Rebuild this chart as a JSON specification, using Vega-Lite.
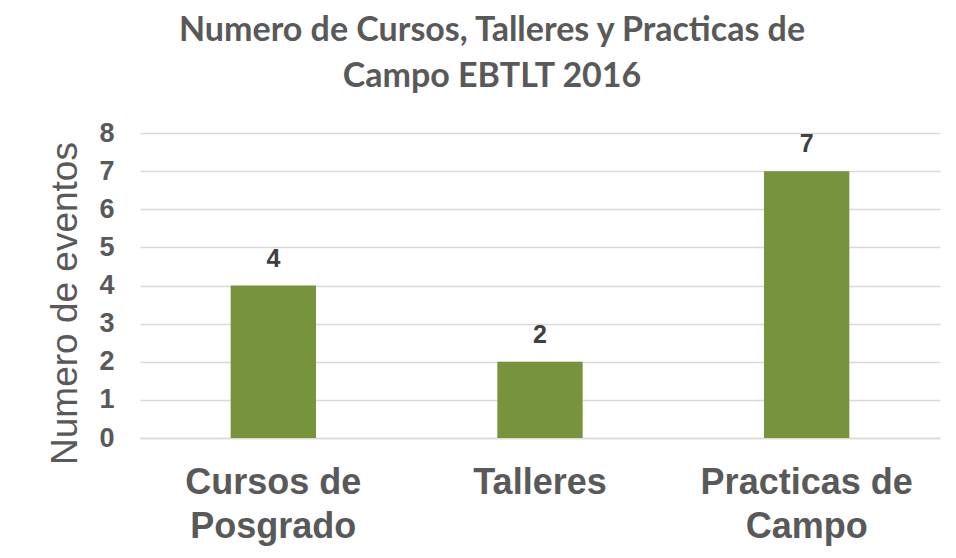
{
  "$schema": "https://vega.github.io/schema/vega-lite/v6.json",
  "width": 800,
  "height": 305,
  "autosize": {"type": "none"},
  "padding": {"left": 140, "top": 133, "right": 16, "bottom": 120},
  "background": "white",
  "title": {
    "text": ["Numero de Cursos, Talleres y Practicas de", "Campo EBTLT 2016"],
    "font": "Lato",
    "fontSize": 34,
    "fontWeight": "bold",
    "color": "#595959",
    "lineHeight": 46,
    "anchor": "middle",
    "dx": -48,
    "offset": 25
  },
  "data": {
    "values": [
      {"categoria": "Cursos de Posgrado", "eventos": 4},
      {"categoria": "Talleres", "eventos": 2},
      {"categoria": "Practicas de Campo", "eventos": 7}
    ]
  },
  "config": {
    "view": {"stroke": null}
  },
  "encoding": {
    "x": {
      "field": "categoria",
      "type": "nominal",
      "sort": null,
      "scale": {"paddingInner": 0.68, "paddingOuter": 0.34},
      "axis": {
        "title": null,
        "labelAngle": 0,
        "labelFont": "Liberation Sans",
        "labelFontSize": 36,
        "labelFontWeight": "bold",
        "labelColor": "#595959",
        "labelPadding": 27,
        "labelLineHeight": 44,
        "labelLimit": 0,
        "labelExpr": "datum.value == 'Cursos de Posgrado' ? ['Cursos de', 'Posgrado'] : datum.value == 'Practicas de Campo' ? ['Practicas de', 'Campo'] : datum.value",
        "ticks": false,
        "domainColor": "#d9d9d9",
        "domainWidth": 1.5
      }
    },
    "y": {
      "field": "eventos",
      "type": "quantitative",
      "scale": {"domain": [0, 8]},
      "axis": {
        "title": "Numero de eventos",
        "titleFont": "Liberation Sans",
        "titleFontSize": 37,
        "titleFontWeight": "normal",
        "titleColor": "#595959",
        "titlePadding": 14,
        "titleY": 170,
        "values": [0, 1, 2, 3, 4, 5, 6, 7, 8],
        "labelOverlap": false,
        "labelFont": "Liberation Sans",
        "labelFontSize": 27,
        "labelFontWeight": "bold",
        "labelColor": "#595959",
        "labelPadding": 26,
        "ticks": false,
        "domain": false,
        "gridColor": "#d9d9d9",
        "gridWidth": 1.5
      }
    }
  },
  "layer": [
    {"mark": {"type": "bar", "color": "#77933C"}},
    {
      "mark": {
        "type": "text",
        "baseline": "bottom",
        "dy": -14,
        "font": "Liberation Sans",
        "fontSize": 25,
        "fontWeight": "bold",
        "color": "#404040"
      },
      "encoding": {"text": {"field": "eventos", "type": "quantitative"}}
    }
  ]
}
